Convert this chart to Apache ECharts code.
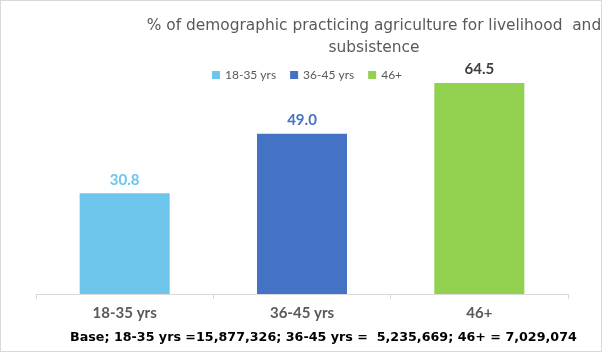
<!DOCTYPE html>
<html><head><meta charset="utf-8">
<script src="https://cdn.jsdelivr.net/npm/echarts@6/dist/echarts.min.js"></script>
<style>html,body{margin:0;padding:0;background:#fff}#c{width:600px;height:350px;border:1px solid #d9d9d9}</style>
</head><body><div id="c"></div>
<script>
const categories = ['18-35 yrs', '36-45 yrs', '46+'];
const values = [30.8, 49.0, 64.5];
const colors = ['#6DC5EC', '#4472C4', '#92D050'];
const labelColors = ['#6DC5EC', '#4472C4', '#404040'];
const titleText = '% of demographic practicing agriculture for livelihood  and\nsubsistence';
const baseText = 'Base; 18-35 yrs =15,877,326; 36-45 yrs =  5,235,669; 46+ = 7,029,074';

const chart = echarts.init(document.getElementById('c'));
const series = categories.map((name, i) => ({
  name: name,
  type: 'bar',
  stack: 'all',
  barWidth: 90,
  itemStyle: { color: colors[i] },
  label: { show: true, position: 'top', distance: 6, formatter: p => p.value.toFixed(1),
    color: labelColors[i], fontWeight: 'bold', fontSize: 15, fontFamily: 'Lato' },
  data: categories.map((c, j) => j === i ? values[i] : '-')
}));
chart.setOption({
  animation: false,
  title: { text: titleText, left: 368, top: 9, textAlign: 'center',
    textStyle: { fontFamily: 'DejaVu Sans', fontSize: 15.4, fontWeight: 'normal', color: '#595959', lineHeight: 22 } },
  legend: { data: categories, left: 206, top: 63, itemWidth: 8, itemHeight: 8, itemGap: 14,
    icon: 'rect', textStyle: { fontFamily: 'Lato', fontSize: 12, color: '#595959' } },
  graphic: [{ type: 'text', left: 69, top: 330, style: { text: baseText, font: 'bold 12.7px "DejaVu Sans"', fill: '#000' } }],
  grid: { left: 35, right: 33, top: 64, bottom: 57 },
  xAxis: { type: 'category', data: categories,
    axisLine: { lineStyle: { color: '#d9d9d9' } },
    axisTick: { show: true, length: 5, lineStyle: { color: '#d9d9d9' } },
    axisLabel: { color: '#595959', fontWeight: 'bold', fontSize: 15, fontFamily: 'Lato', margin: 12 } },
  yAxis: { type: 'value', min: 0, max: 70, show: false, splitLine: { show: false } },
  series: series
});
</script></body></html>
